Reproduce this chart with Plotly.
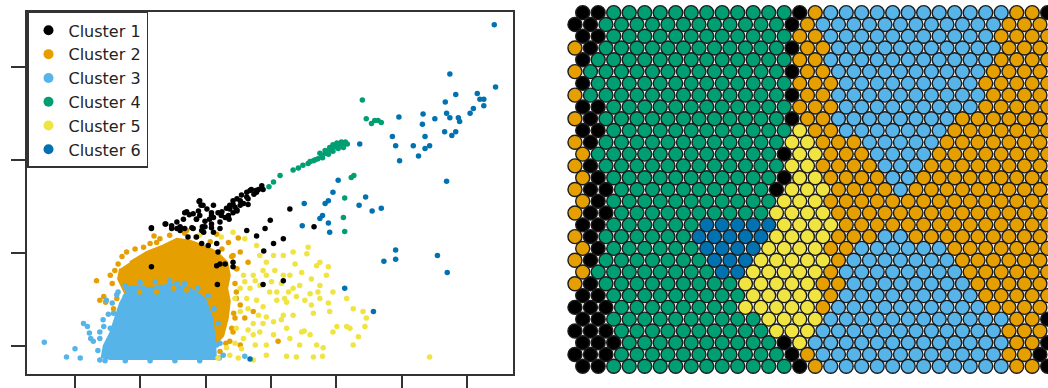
import plotly.graph_objects as go

# ---------------------------------------------------------------------------
# Cluster definitions
# ---------------------------------------------------------------------------
cluster_names = ["Cluster 1", "Cluster 2", "Cluster 3", "Cluster 4", "Cluster 5", "Cluster 6"]
cluster_colors = ["#000000", "#E69F00", "#56B4E9", "#009E73", "#F0E442", "#0072B2"]

# ---------------------------------------------------------------------------
# Scatter panel: observations coloured by cluster
# ---------------------------------------------------------------------------
c1_x = [1.17, 1.39, 1.48, 1.61, 1.68, 1.75, 1.90, 1.93, 1.86, 1.95, 1.99, 2.06, 2.12, 2.19, 2.24,
        2.32, 2.37, 2.42, 2.48, 2.55, 2.63, 2.70, 2.77, 2.65, 2.48, 2.36, 2.22, 2.12, 2.17, 1.97,
        1.73, 1.86, 1.94, 2.04, 2.19, 2.30, 2.42, 2.22, 2.63, 2.78, 2.91, 2.99, 3.04, 2.89, 3.19,
        3.29, 3.66, 3.19, 2.88, 2.18, 1.17, 1.94, 2.09, 1.81, 2.02, 2.09, 2.42, 2.53, 2.58, 2.35,
        2.45, 2.65, 2.74, 2.81, 2.86, 2.12, 1.91, 1.79, 1.56, 2.42, 2.17,
        1.91, 1.96, 1.89, 1.81, 1.71, 1.66, 1.56, 1.48, 1.68, 1.61, 1.86, 1.99, 2.09, 2.22,
        2.30, 2.42, 2.53, 2.63, 2.68, 2.78, 2.88, 2.48, 2.37, 2.25, 2.09, 1.38, 1.17]
c1_y = [1.27, 1.31, 1.26, 1.28, 1.43, 1.41, 1.55, 1.51, 1.36, 1.28, 1.34, 1.36, 1.38, 1.43, 1.40,
        1.48, 1.51, 1.56, 1.58, 1.62, 1.65, 1.68, 1.67, 1.58, 1.46, 1.36, 1.26, 1.22, 1.10, 1.22,
        1.17, 1.17, 1.10, 1.08, 1.01, 0.88, 0.85, 0.88, 1.24, 1.18, 1.26, 1.35, 1.10, 1.02, 1.15,
        1.47, 1.28, 0.70, 0.66, 0.66, 0.85, 1.24, 1.27, 1.26, 1.47, 1.43, 1.43, 1.51, 1.53, 1.40,
        1.49, 1.52, 1.63, 1.68, 1.72, 1.51, 1.40, 1.27, 1.26, 0.90, 0.86,
        1.56, 1.51, 1.45, 1.42, 1.44, 1.36, 1.33, 1.29, 1.26, 1.24, 1.36, 1.28, 1.31, 1.33,
        1.38, 1.52, 1.56, 1.60, 1.67, 1.65, 1.68, 1.45, 1.47, 1.44, 1.40, 1.31, 1.26]

c2_x = [0.33, 0.38, 0.47, 0.79, 1.21, 1.96, 2.50, 2.53, 2.65, 2.47, 2.53, 2.45, 2.42, 2.53, 2.60,
        2.73, 2.37, 3.11, 0.99, 1.25, 1.51, 1.71, 0.64, 0.59, 2.22, 1.05, 1.25, 1.71, 2.17, 2.35,
        2.42, 2.48, 0.54, 0.66,
        0.61, 0.57, 0.72, 0.92, 1.15, 1.30, 1.45, 1.68, 1.85, 2.07, 2.25, 2.40, 2.47, 2.45,
        2.47, 2.43, 2.40, 2.31, 0.44]
c2_y = [0.70, 0.49, 0.47, 1.01, 1.18, 1.26, 1.16, 1.01, 0.90, 0.58, 0.44, 0.30, 0.15, 0.01, 0.30,
        0.37, 0.05, 0.05, 0.58, 0.58, 0.62, 0.60, 0.51, 0.40, -0.06, 1.06, 1.11, 1.24, 1.20, 1.11,
        0.97, 0.83, 0.76, 0.88,
        0.81, 0.67, 0.96, 1.04, 1.10, 1.15, 1.19, 1.21, 1.17, 1.12, 1.04, 0.96, 0.83, 0.67,
        0.51, 0.35, 0.19, 0.03, 0.53]
# outline of the dense core of cluster 2
c2_core_x = [0.84, 1.10, 1.35, 1.56, 1.76, 1.96, 2.17, 2.33, 2.37, 2.33, 2.37, 2.34, 2.27, 2.17,
             1.91, 1.30, 0.77, 0.66, 0.69]
c2_core_y = [0.90, 1.01, 1.08, 1.15, 1.13, 1.08, 1.01, 0.90, 0.76, 0.62, 0.48, 0.30, 0.11, 0.03,
             0.30, 0.51, 0.56, 0.72, 0.83]

c3_x = [-0.47, -0.13, 0.00, 0.08, 0.13, 0.19, 0.22, 0.24, 0.28, 0.38, 0.43, 0.48, 0.59, 0.54, 0.66,
        0.77, 0.84, 0.38, 2.60, 2.27, 2.17, 1.05, 1.30, 1.56, 0.79,
        0.35, 0.38, 0.44, 0.51, 0.57, 0.64, 0.77, 1.00, 1.23, 1.45, 1.68, 1.88, 2.04, 2.13,
        2.19, 2.22, 2.21, 0.46, 0.77, 1.15, 1.53, 1.91]
c3_y = [0.04, -0.12, -0.03, -0.13, 0.24, 0.21, 0.14, 0.08, 0.05, -0.15, 0.28, 0.49, 0.35, 0.19, 0.58,
        0.53, 0.49, 0.15, -0.11, -0.10, 0.01, 0.62, 0.63, 0.67, 0.62,
        -0.05, 0.08, 0.21, 0.34, 0.46, 0.55, 0.65, 0.68, 0.69, 0.70, 0.67, 0.62, 0.54, 0.40,
        0.24, 0.03, -0.13, -0.16, -0.16, -0.16, -0.16, -0.16]
# outline of the dense core of cluster 3
c3_core_x = [0.84, 1.15, 1.45, 1.76, 1.99, 2.10, 2.14, 2.16, 1.61, 1.00, 0.54, 0.41, 0.44, 0.54,
             0.61, 0.69, 0.77]
c3_core_y = [0.64, 0.62, 0.66, 0.62, 0.51, 0.30, 0.08, -0.14, -0.14, -0.14, -0.14, -0.12, 0.00,
             0.14, 0.30, 0.46, 0.56]

c4_x = [3.34, 3.42, 3.49, 3.57, 3.65, 3.72, 3.78, 3.83, 3.88, 3.93, 3.98, 4.03, 4.08, 4.13, 4.17,
        3.75, 3.83, 3.90, 3.95, 4.01, 4.08, 4.14, 3.88, 3.95, 4.03, 4.11, 3.68, 3.60, 3.79,
        4.46, 4.54, 4.64, 4.69, 4.59, 4.40, 4.27, 4.23, 4.13, 4.11, 4.13, 3.14, 3.04, 2.97]
c4_y = [1.89, 1.91, 1.94, 1.96, 1.99, 2.01, 2.04, 2.07, 2.09, 2.12, 2.14, 2.15, 2.16, 2.17, 2.17,
        2.07, 2.10, 2.13, 2.16, 2.18, 2.19, 2.19, 2.06, 2.09, 2.12, 2.13, 2.00, 1.98, 2.02,
        2.44, 2.39, 2.42, 2.40, 2.42, 2.64, 1.83, 1.81, 1.59, 1.38, 1.23, 1.83, 1.76, 1.71]

c5_x = [2.24, 2.83, 2.93, 3.37, 3.57, 3.55, 2.58, 2.73, 2.93, 3.06, 3.19, 2.68, 2.83, 2.98, 3.16,
        3.27, 3.44, 3.62, 3.75, 3.88, 3.85, 2.63, 2.78, 2.88, 3.09, 3.24, 3.39, 3.60, 3.75, 3.88,
        3.95, 4.41, 2.53, 2.81, 2.93, 3.16, 3.34, 3.65, 3.90, 4.01, 4.16, 4.34, 4.44, 2.47, 2.65,
        2.83, 3.04, 3.24, 3.47, 3.70, 3.80, 2.32, 2.45, 2.55, 2.76, 2.93, 3.24, 3.39, 3.65, 3.79,
        5.43, 2.73, 2.19, 3.51, 1.91, 2.42, 2.60, 2.78, 3.04, 3.19, 3.34, 3.75, 4.21,
        2.60, 2.76, 2.88, 3.01, 3.09, 3.21, 3.34, 3.52, 3.62, 3.72, 2.73, 2.88, 3.04, 3.19,
        3.29, 3.44, 3.60, 3.95, 4.26, 4.46, 2.73, 2.58, 2.37, 2.50, 2.93, 2.65, 2.45, 2.53,
        3.29, 3.47, 3.70, 4.16, 4.26]
c5_y = [1.17, 0.97, 0.90, 0.88, 1.06, 0.99, 0.76, 0.76, 0.76, 0.81, 0.76, 0.62, 0.65, 0.58, 0.67,
        0.58, 0.65, 0.72, 0.65, 0.85, 0.76, 0.51, 0.49, 0.42, 0.49, 0.47, 0.53, 0.56, 0.51, 0.46,
        0.58, 0.37, 0.37, 0.33, 0.31, 0.28, 0.33, 0.35, 0.37, 0.21, 0.21, 0.10, 0.21, 0.19, 0.17,
        0.15, 0.12, 0.19, 0.15, 0.01, -0.02, -0.02, 0.03, -0.03, 0.01, 0.01, -0.11, -0.12, -0.12,
        -0.11, -0.12, -0.15, -0.13, 0.16, 1.19, 1.22, 1.15, 1.08, 0.97, 0.97, 1.01, 0.90, 0.19,
        0.69, 0.70, 0.81, 0.69, 0.58, 0.51, 0.62, 0.49, 0.44, 0.58, 0.24, 0.24, 0.26, 0.33,
        0.08, 0.01, 0.12, 0.15, 0.01, 0.30, 0.12, 0.08, -0.10, -0.13, -0.10, 0.40, 0.51, 0.62,
        0.76, 0.79, 0.86, 0.51, 0.40]

c6_x = [6.42, 5.74, 6.44, 5.83, 5.67, 6.16, 6.20, 6.26, 6.10, 6.05, 6.26, 5.51, 5.69, 5.74, 5.87,
        5.89, 5.33, 5.32, 4.96, 5.66, 5.77, 5.83, 5.36, 5.43, 5.36, 5.18, 5.26, 4.86, 4.91, 4.97,
        4.36, 5.69, 4.03, 3.95, 3.88, 3.83, 3.79, 3.75, 3.88, 3.90, 4.35, 4.45, 4.55, 4.69, 3.51,
        3.48, 4.91, 4.91, 4.73, 5.55, 5.70, 4.13, 4.57, 2.68]
c6_y = [3.45, 2.92, 2.78, 2.70, 2.62, 2.71, 2.65, 2.65, 2.55, 2.50, 2.58, 2.44, 2.50, 2.45, 2.45,
        2.41, 2.49, 2.38, 2.46, 2.30, 2.26, 2.30, 2.25, 2.15, 2.12, 2.15, 2.04, 2.25, 2.15, 1.99,
        2.17, 1.77, 1.78, 1.65, 1.56, 1.53, 1.40, 1.37, 1.32, 1.22, 1.51, 1.60, 1.45, 1.48, 1.53,
        1.29, 1.03, 0.93, 0.91, 0.97, 0.79, 0.62, 0.37, -0.14]

x_ticks = [0, 1, 2, 3, 4, 5, 6]
y_ticks = [0, 1, 2, 3]

# ---------------------------------------------------------------------------
# SOM panel: cluster of every node on the hexagonal grid (row by row from the top,
# digit = cluster number)
# ---------------------------------------------------------------------------
som_rows = [
    "1144444444444412333333333333221",
    "1144444444444412333333333333222",
    "1144444444444422333333333332222",
    "2144444444444412233333333333222",
    "1444444444444422333333333332222",
    "2444444444444412233333333332222",
    "1444444444444422233333333322222",
    "2444444444444412233333333332222",
    "1144444444444422233333333322222",
    "2144444444444412233333333222222",
    "1144444444444452233333332222222",
    "2144444444444455222333332222222",
    "2444444444444155222333322222222",
    "2144444444444455222233322222222",
    "2144444444444155222233222222222",
    "2114444444444155522223222222222",
    "2144444444444555222222222222222",
    "2114444444444555522222222222222",
    "1144444466666555522222222222222",
    "2144444466666555522233222222222",
    "2144444466665555223333332222222",
    "2144444446665555523333333222222",
    "2444444446655555233333333222222",
    "2144444444455555223333333322222",
    "1144444444455555233333333322222",
    "1114444444455555233333333332222",
    "1144444444445555333333333333221",
    "1114444444444555333333333333222",
    "1114444444444153333333333333221",
    "1114444444444412333333333333221",
    "1144444444444412333333333333221",
]

# ---------------------------------------------------------------------------
# Figure
# ---------------------------------------------------------------------------
W, H = 1048, 388
fig = go.Figure()

for cx, cy, k in [(c2_core_x, c2_core_y, 1), (c3_core_x, c3_core_y, 2)]:
    fig.add_trace(go.Scatter(
        x=cx, y=cy, mode="lines", fill="toself",
        line=dict(color=cluster_colors[k], width=2),
        fillcolor=cluster_colors[k], showlegend=False, hoverinfo="skip",
        xaxis="x", yaxis="y"))

point_sets = [(c2_x, c2_y, 1), (c3_x, c3_y, 2), (c5_x, c5_y, 4),
              (c1_x, c1_y, 0), (c4_x, c4_y, 3), (c6_x, c6_y, 5)]
for px, py, k in point_sets:
    fig.add_trace(go.Scatter(
        x=px, y=py, mode="markers",
        marker=dict(color=cluster_colors[k], size=5.5, line=dict(width=0)),
        name=cluster_names[k], showlegend=False, xaxis="x", yaxis="y"))

# legend entries
for k, name in enumerate(cluster_names):
    fig.add_trace(go.Scatter(
        x=[None], y=[None], mode="markers", name=name,
        marker=dict(color=cluster_colors[k], size=10),
        xaxis="x", yaxis="y"))

# hexagonal SOM grid (odd rows shifted half a node to the left)
hx, hy, hc = [], [], []
for r, row in enumerate(som_rows):
    for c, code in enumerate(row):
        hx.append(c - 0.5 * (r % 2))
        hy.append(r)
        hc.append(cluster_colors[int(code) - 1])
fig.add_trace(go.Scatter(
    x=hx, y=hy, mode="markers",
    marker=dict(color=hc, size=14, line=dict(color="#1c1c1c", width=1.4)),
    showlegend=False, hoverinfo="skip", xaxis="x2", yaxis="y2"))

axis_common = dict(showgrid=False, zeroline=False, showticklabels=False,
                   ticks="outside", ticklen=14, tickwidth=1.5, tickcolor="#333333",
                   showline=True, linecolor="#333333", linewidth=1.5, mirror=True)

fig.update_layout(
    width=W, height=H,
    margin=dict(l=0, r=0, t=0, b=0),
    paper_bgcolor="white", plot_bgcolor="white",
    xaxis=dict(domain=[27 / W, 513 / W], range=[-0.735, 6.707], tickvals=x_ticks, **axis_common),
    yaxis=dict(domain=[12 / H, 376 / H], range=[-0.302, 3.587], tickvals=y_ticks, **axis_common),
    xaxis2=dict(domain=[560 / W, 1.0], range=[-1.465, 30.02], visible=False),
    yaxis2=dict(domain=[0.0, 1.0], range=[31.67, -1.072], visible=False),
    legend=dict(x=27 / W, y=(H - 12) / H, xanchor="left", yanchor="top",
                bgcolor="white", bordercolor="#333333", borderwidth=1.5,
                font=dict(family="DejaVu Sans", size=16, color="#222222"),
                itemsizing="trace", tracegroupgap=0,
                entrywidthmode="pixels", entrywidth=95),
    showlegend=True,
)

fig.write_html("out.html")
